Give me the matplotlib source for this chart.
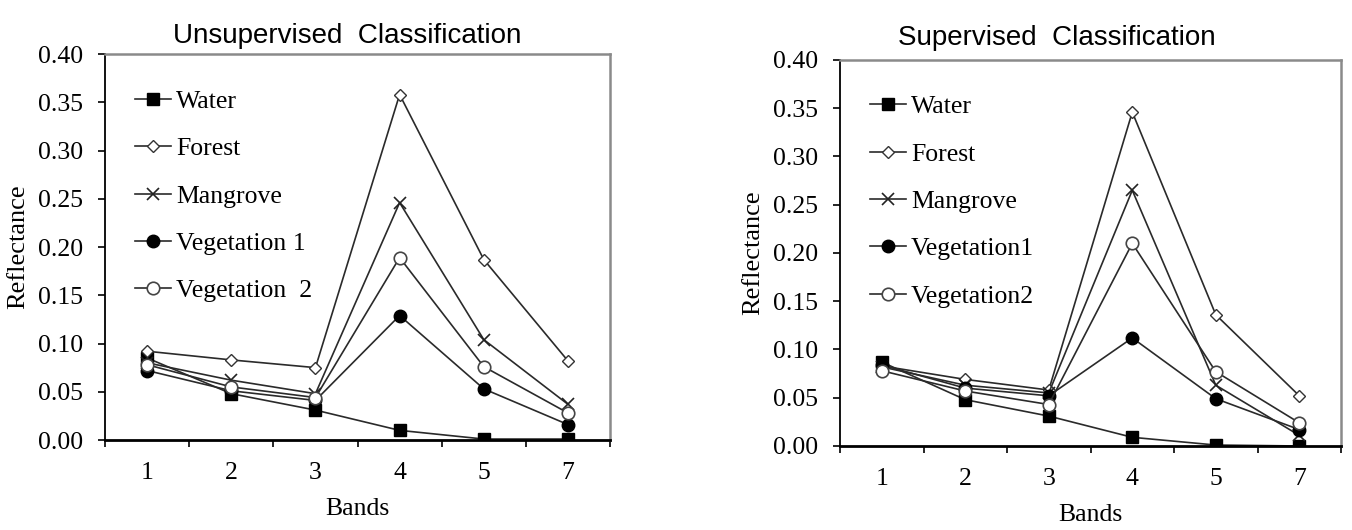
import numpy as np
import matplotlib
matplotlib.use("Agg")
import matplotlib.pyplot as plt

# ================= DATA =================
BANDS = ["1", "2", "3", "4", "5", "7"]
CLASSES = ["Water", "Forest", "Mangrove", "Vegetation 1", "Vegetation  2"]
CLASSES_SUP = ["Water", "Forest", "Mangrove", "Vegetation1", "Vegetation2"]

# Unsupervised classification
unsup_water = [0.085, 0.048, 0.031, 0.010, 0.001, 0.001]
unsup_forest = [0.092, 0.083, 0.075, 0.358, 0.187, 0.082]
unsup_mangrove = [0.080, 0.062, 0.048, 0.246, 0.104, 0.037]
unsup_veg1 = [0.072, 0.051, 0.041, 0.129, 0.053, 0.016]
unsup_veg2 = [0.078, 0.055, 0.044, 0.189, 0.076, 0.028]

# Supervised classification
sup_water = [0.087, 0.048, 0.031, 0.009, 0.001, 0.000]
sup_forest = [0.083, 0.069, 0.058, 0.346, 0.136, 0.052]
sup_mangrove = [0.082, 0.063, 0.055, 0.265, 0.063, 0.011]
sup_veg1 = [0.084, 0.060, 0.052, 0.112, 0.049, 0.017]
sup_veg2 = [0.078, 0.057, 0.043, 0.210, 0.077, 0.024]
# ========================================

SERIF = ["Liberation Serif", "DejaVu Serif"]
SANS = ["Liberation Sans Narrow", "Liberation Sans", "DejaVu Sans"]

MARKERS = [
    dict(marker="s", ms=8, mfc="black", mec="black"),
    dict(marker="D", ms=6, mfc="white", mec="#333333", mew=1.0),
    dict(marker="x", ms=9, mfc="none", mec="#222222", mew=1.2),
    dict(marker="o", ms=9, mfc="black", mec="black"),
    dict(marker="o", ms=9, mfc="white", mec="#444444", mew=1.2),
]


def draw_panel(ax, series, labels, title, title_x, title_pad, leg_anchor):
    x = np.arange(len(BANDS))
    for vals, lab, mk in zip(series, labels, MARKERS):
        ax.plot(x, vals, color="#2a2a2a", lw=1.2, label=lab, **mk)

    ax.set_xlim(-0.5, len(BANDS) - 0.5)
    ax.set_ylim(0, 0.40)
    yt = np.arange(0, 0.401, 0.05)
    ax.set_yticks(yt)
    ax.set_yticklabels([f"{v:.2f}" for v in yt], family=SERIF, fontsize=18.5)

    # tick marks between categories, labels at category centres
    ax.set_xticks(np.arange(-0.5, len(BANDS) + 0.5, 1.0))
    ax.set_xticklabels([])
    ax.set_xticks(x, minor=True)
    ax.set_xticklabels(BANDS, minor=True, family=SERIF, fontsize=18.5)
    ax.tick_params(axis="x", which="minor", length=0, pad=16)
    ax.tick_params(axis="x", which="major", length=5, width=1.2, direction="out")
    ax.tick_params(axis="y", length=5, width=1.2, direction="out", pad=11)

    for side in ("top", "right"):
        ax.spines[side].set_color("#8a8a8a")
        ax.spines[side].set_linewidth(1.8)
    ax.spines["left"].set_linewidth(1.3)
    ax.spines["bottom"].set_linewidth(2.0)

    ax.set_ylabel("Reflectance", family=SERIF, fontsize=19, labelpad=6)
    ax.set_xlabel("Bands", family=SERIF, fontsize=18.5, labelpad=10)
    ax.set_title(title, family=SANS, fontsize=20, pad=title_pad, x=title_x)

    ax.legend(loc="upper left", frameon=False, handlelength=1.4,
              handletextpad=0.2, labelspacing=0.95, borderaxespad=0,
              borderpad=0, bbox_to_anchor=leg_anchor,
              prop=dict(family=SERIF, size=18.5))


fig = plt.figure(figsize=(13.52, 5.3), dpi=100)
ax1 = fig.add_axes([0.0777, 0.1698, 0.3735, 0.7283])
ax2 = fig.add_axes([0.6213, 0.1585, 0.3706, 0.7283])

draw_panel(ax1, [unsup_water, unsup_forest, unsup_mangrove, unsup_veg1, unsup_veg2],
           CLASSES, "Unsupervised  Classification", 0.479, 8, (0.059, 0.907))
draw_panel(ax2, [sup_water, sup_forest, sup_mangrove, sup_veg1, sup_veg2],
           CLASSES_SUP, "Supervised  Classification", 0.433, 11, (0.06, 0.909))

fig.savefig("out.png", dpi=100)
